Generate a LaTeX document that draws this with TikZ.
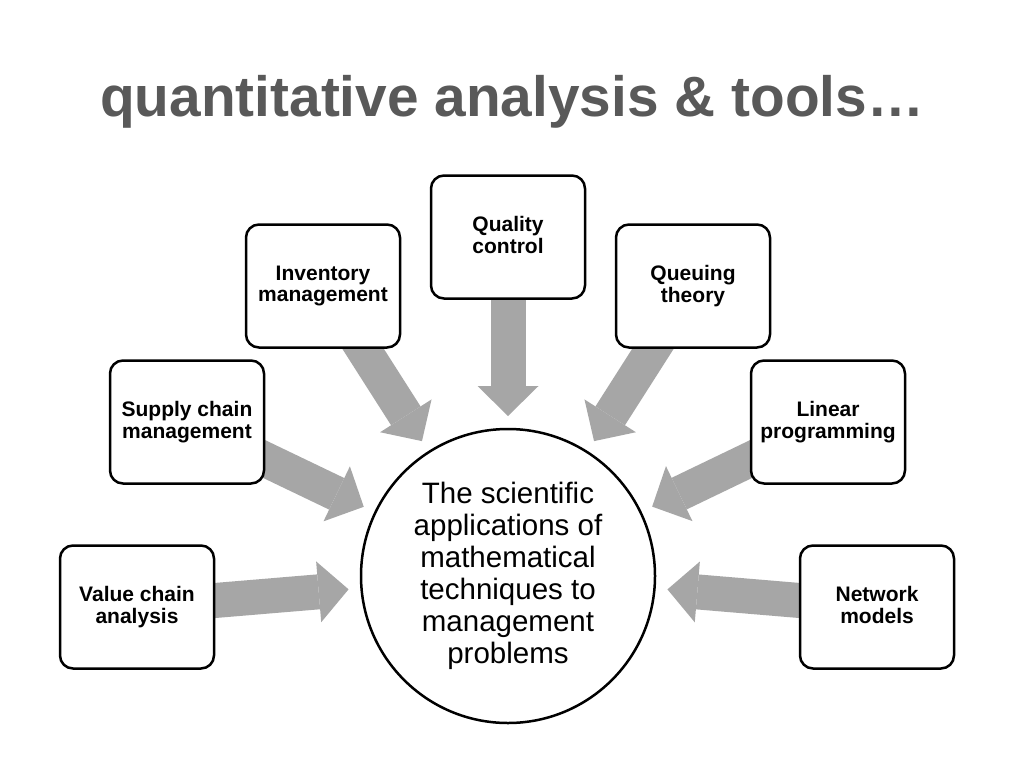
\documentclass[tikz,border=0pt]{standalone}
\usepackage{fontspec}
\setmainfont{Liberation Sans}
\usepackage{tikz}
\usetikzlibrary{calc}
\usetikzlibrary{backgrounds}
\usetikzlibrary{arrows.meta}
\definecolor{titregris}{HTML}{595959}
\definecolor{flechegris}{HTML}{A6A6A6}

\tikzset{
  boite/.style={draw=black, line width=2.5pt, fill=white, rounded corners=13pt,
    minimum width=154pt, minimum height=123pt, align=center,
    font=\bfseries\fontsize{21}{21.5}\selectfont, execute at end node=\vphantom{g}},
  fleche/.style={flechegris, line width=35pt,
    -{Triangle[length=30pt,width=61pt,line width=0pt]}}
}

\begin{document}
\begin{tikzpicture}[x=1pt,y=-1pt]
\useasboundingbox (0,0) rectangle (1024,768);
%					Titre :
\node[anchor=base, text=titregris, font=\bfseries\fontsize{56.8}{60}\selectfont] (titre) at (512,116) {quantitative analysis \& tools…};
%					Cercle central :
\node[circle, draw=black, line width=2.5pt, fill=white, minimum size=294pt, inner sep=0pt,
  align=center, font=\fontsize{29.5}{32}\selectfont] (coeur) at (508,576)
  {The scientific\\applications of\\mathematical\\techniques to\\management\\problems};
%					Boites :
\node[boite] (vca) at (137,607) {Value chain\\analysis};
\node[boite] (scm) at (187,422) {Supply chain\\management};
\node[boite] (inv) at (323,286) {Inventory\\management};
\node[boite] (qc)  at (508,237) {Quality\\control};
\node[boite] (que) at (693,286) {Queuing\\theory};
\node[boite] (lin) at (828,422) {Linear\\programming};
\node[boite] (net) at (877,607) {Network\\models};
%					Fleches :
\begin{scope}[on background layer]
  \fill[white] (0,0) rectangle (1024,768);
  \draw[fleche] (vca.center) -- ($(coeur.center)!160pt!(vca.center)$);
  \draw[fleche] (scm.center) -- ($(coeur.center)!160pt!(scm.center)$);
  \draw[fleche] (inv.center) -- ($(coeur.center)!160pt!(inv.center)$);
  \draw[fleche] (qc.center)  -- ($(coeur.center)!160pt!(qc.center)$);
  \draw[fleche] (que.center) -- ($(coeur.center)!160pt!(que.center)$);
  \draw[fleche] (lin.center) -- ($(coeur.center)!160pt!(lin.center)$);
  \draw[fleche] (net.center) -- ($(coeur.center)!160pt!(net.center)$);
\end{scope}
\end{tikzpicture}
\end{document}
